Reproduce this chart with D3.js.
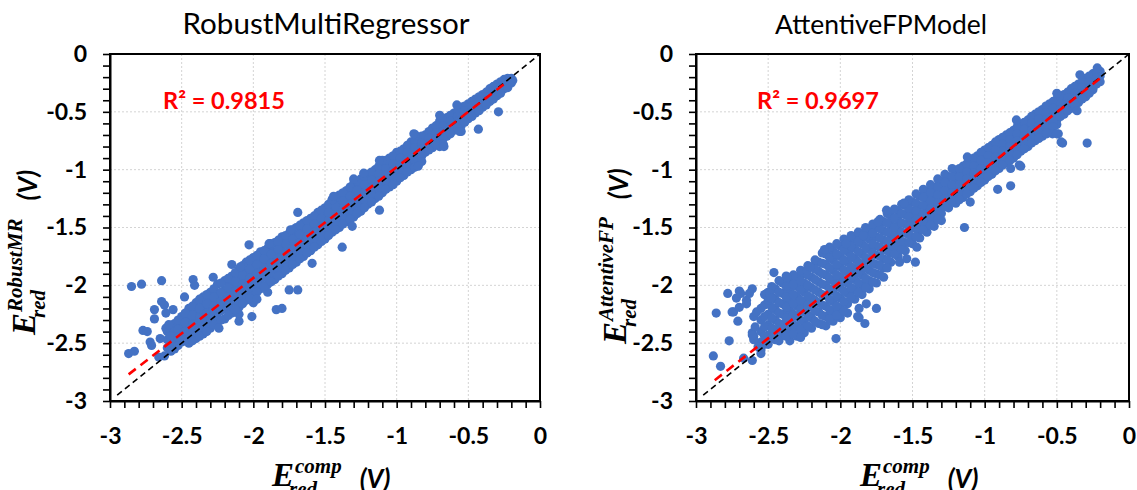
<!DOCTYPE html>
<html><head><meta charset="utf-8">
<script src="https://cdn.jsdelivr.net/npm/d3@7"></script>
<style>body{margin:0;background:#fff}svg{display:block}</style>
</head><body><svg id="c" width="1137" height="490"></svg>
<script>
// ---------- data ----------
const titles = ["RobustMultiRegressor", "AttentiveFPModel"];
const r2Labels = ["R\u00B2 = 0.9815", "R\u00B2 = 0.9697"];
const supLabels = ["RobustMR", "AttentiveFP"];
const tickValues = [-3, -2.5, -2, -1.5, -1, -0.5, 0];
const tickLabels = ["-3", "-2.5", "-2", "-1.5", "-1", "-0.5", "0"];

// dense band: [x, [y values]]
const robustBand = [
 [-2.60,[-2.40,-2.47,-2.54]],
 [-2.55,[-2.33,-2.41,-2.48,-2.55]],
 [-2.50,[-2.27,-2.35,-2.42,-2.49]],
 [-2.45,[-2.20,-2.28,-2.36,-2.44,-2.50]],
 [-2.40,[-2.15,-2.23,-2.31,-2.39,-2.46]],
 [-2.35,[-2.10,-2.18,-2.26,-2.34,-2.42]],
 [-2.30,[-2.06,-2.13,-2.21,-2.29,-2.37]],
 [-2.25,[-1.99,-2.08,-2.16,-2.24,-2.32]],
 [-2.20,[-1.96,-2.04,-2.12,-2.20,-2.29]],
 [-2.15,[-1.92,-1.99,-2.07,-2.15,-2.24]],
 [-2.10,[-1.86,-1.94,-2.02,-2.10,-2.19,-2.25]],
 [-2.05,[-1.80,-1.89,-1.97,-2.05,-2.13]],
 [-2.00,[-1.76,-1.84,-1.92,-2.00,-2.08,-2.15]],
 [-1.95,[-1.71,-1.79,-1.87,-1.95,-2.03]],
 [-1.90,[-1.68,-1.75,-1.83,-1.91,-1.99,-2.06]],
 [-1.85,[-1.63,-1.71,-1.79,-1.87,-1.95]],
 [-1.80,[-1.58,-1.66,-1.74,-1.82,-1.90]],
 [-1.75,[-1.55,-1.62,-1.70,-1.78,-1.85]],
 [-1.70,[-1.50,-1.58,-1.65,-1.73,-1.80]],
 [-1.65,[-1.46,-1.53,-1.60,-1.68,-1.75]],
 [-1.60,[-1.42,-1.49,-1.56,-1.63,-1.70]],
 [-1.55,[-1.37,-1.44,-1.51,-1.58,-1.65]],
 [-1.50,[-1.33,-1.40,-1.46,-1.53,-1.60]],
 [-1.45,[-1.26,-1.34,-1.41,-1.48,-1.54]],
 [-1.40,[-1.22,-1.30,-1.37,-1.44,-1.50]],
 [-1.35,[-1.18,-1.25,-1.32,-1.39,-1.45]],
 [-1.30,[-1.12,-1.20,-1.27,-1.34,-1.41]],
 [-1.25,[-1.08,-1.15,-1.22,-1.29,-1.36]],
 [-1.20,[-1.04,-1.11,-1.17,-1.24,-1.30]],
 [-1.15,[-1.00,-1.07,-1.13,-1.19,-1.25]],
 [-1.10,[-0.93,-1.01,-1.08,-1.14,-1.20]],
 [-1.05,[-0.90,-0.97,-1.03,-1.09,-1.15]],
 [-1.00,[-0.85,-0.92,-0.98,-1.04,-1.10]],
 [-0.95,[-0.82,-0.88,-0.93,-0.99,-1.05]],
 [-0.90,[-0.76,-0.83,-0.89,-0.94,-1.00]],
 [-0.85,[-0.73,-0.79,-0.84,-0.90,-0.96]],
 [-0.80,[-0.70,-0.76,-0.79,-0.85]],
 [-0.75,[-0.64,-0.70,-0.75,-0.81]],
 [-0.70,[-0.58,-0.64,-0.69,-0.75,-0.80]],
 [-0.65,[-0.55,-0.60,-0.65,-0.71]],
 [-0.60,[-0.51,-0.56,-0.60,-0.66]],
 [-0.55,[-0.46,-0.51,-0.56,-0.62,-0.67]],
 [-0.50,[-0.43,-0.47,-0.51,-0.56]],
 [-0.45,[-0.39,-0.43,-0.46,-0.51]],
 [-0.40,[-0.35,-0.39,-0.41,-0.46]],
 [-0.35,[-0.30,-0.34,-0.37,-0.41]],
 [-0.30,[-0.26,-0.30,-0.32,-0.36]],
 [-0.25,[-0.22,-0.26,-0.30]],
 [-0.20,[-0.21,-0.25]]
];
const robustBandB = [
 [-2.575,[-2.37,-2.44,-2.51,-2.57]],
 [-2.525,[-2.30,-2.38,-2.45,-2.52]],
 [-2.475,[-2.24,-2.32,-2.40,-2.47]],
 [-2.425,[-2.18,-2.26,-2.34,-2.42,-2.48]],
 [-2.375,[-2.12,-2.20,-2.28,-2.36,-2.44]],
 [-2.325,[-2.08,-2.16,-2.24,-2.32,-2.40]],
 [-2.275,[-2.03,-2.10,-2.18,-2.26,-2.34]],
 [-2.225,[-1.98,-2.06,-2.14,-2.22,-2.30]],
 [-2.175,[-1.94,-2.02,-2.10,-2.18,-2.26]],
 [-2.125,[-1.89,-1.97,-2.05,-2.13,-2.21]],
 [-2.075,[-1.83,-1.91,-1.99,-2.07,-2.16]],
 [-2.025,[-1.78,-1.86,-1.94,-2.02,-2.11]],
 [-1.975,[-1.74,-1.82,-1.90,-1.98,-2.06,-2.12]],
 [-1.925,[-1.70,-1.77,-1.85,-1.93,-2.01]],
 [-1.875,[-1.65,-1.73,-1.81,-1.89,-1.97]],
 [-1.825,[-1.61,-1.69,-1.77,-1.85,-1.92]],
 [-1.775,[-1.57,-1.64,-1.72,-1.80,-1.87]],
 [-1.725,[-1.52,-1.60,-1.67,-1.75,-1.82]],
 [-1.675,[-1.48,-1.56,-1.63,-1.70,-1.77]],
 [-1.625,[-1.44,-1.51,-1.58,-1.65,-1.72]],
 [-1.575,[-1.40,-1.47,-1.54,-1.61,-1.67]],
 [-1.525,[-1.35,-1.42,-1.49,-1.56,-1.62]],
 [-1.475,[-1.30,-1.37,-1.44,-1.51,-1.57]],
 [-1.425,[-1.24,-1.32,-1.39,-1.46,-1.52]],
 [-1.375,[-1.20,-1.27,-1.34,-1.41,-1.47]],
 [-1.325,[-1.15,-1.23,-1.30,-1.37,-1.43]],
 [-1.275,[-1.10,-1.18,-1.25,-1.32,-1.38]],
 [-1.225,[-1.06,-1.13,-1.20,-1.26,-1.33]],
 [-1.175,[-1.02,-1.09,-1.15,-1.21,-1.28]],
 [-1.125,[-0.97,-1.04,-1.10,-1.16,-1.23]],
 [-1.075,[-0.92,-0.99,-1.05,-1.11,-1.17]],
 [-1.025,[-0.88,-0.95,-1.01,-1.07,-1.13]],
 [-0.975,[-0.84,-0.90,-0.96,-1.02,-1.07]],
 [-0.925,[-0.79,-0.85,-0.91,-0.97,-1.02]],
 [-0.875,[-0.75,-0.81,-0.87,-0.92,-0.98]],
 [-0.825,[-0.71,-0.77,-0.82,-0.88,-0.93]],
 [-0.775,[-0.67,-0.73,-0.78,-0.83]],
 [-0.725,[-0.62,-0.68,-0.73,-0.78]],
 [-0.675,[-0.57,-0.62,-0.67,-0.73,-0.78]],
 [-0.625,[-0.53,-0.58,-0.63,-0.69]],
 [-0.575,[-0.49,-0.54,-0.58,-0.64]],
 [-0.525,[-0.45,-0.49,-0.54,-0.59]],
 [-0.475,[-0.41,-0.45,-0.49,-0.54]],
 [-0.425,[-0.37,-0.41,-0.44,-0.49]],
 [-0.375,[-0.33,-0.37,-0.40,-0.44]],
 [-0.325,[-0.28,-0.32,-0.35,-0.39]],
 [-0.275,[-0.24,-0.28,-0.31,-0.34]],
 [-0.225,[-0.21,-0.25,-0.29]]
];
const robustOutliers = [
 [-2.85,-2.01],[-2.78,-1.99],[-2.64,-1.96],[-2.87,-2.59],[-2.83,-2.57],[-2.77,-2.39],[-2.74,-2.40],
 [-2.72,-2.49],[-2.71,-2.52],[-2.69,-2.21],[-2.69,-2.29],[-2.64,-2.14],[-2.62,-2.17],[-2.65,-2.46],
 [-2.66,-2.62],[-2.62,-2.61],[-2.61,-2.37],[-2.59,-2.34],[-2.56,-2.21],[-2.61,-2.24],[-2.42,-1.95],
 [-2.41,-2.00],[-2.48,-2.10],[-2.28,-1.93],[-2.15,-1.82],[-2.09,-1.84],[-2.03,-1.65],[-1.88,-1.64],
 [-1.83,-1.62],[-1.69,-1.37],[-1.38,-1.67],[-1.59,-1.81],[-1.69,-2.04],[-1.75,-2.04],[-1.84,-2.21],
 [-1.80,-2.20],[-2.01,-2.27],[-2.10,-2.31],[-2.24,-2.37],
 [-1.10,-0.92],[-0.87,-0.70],[-1.23,-1.03],[-1.45,-1.26],[-1.74,-1.52],[-1.89,-1.64],[-0.67,-0.80],
 [-0.56,-0.67],[-0.85,-0.97],[-1.12,-1.35],[-1.31,-1.49],[-1.12,-0.92],[-1.30,-1.08],[-1.44,-1.23],
 [-0.88,-0.69],[-0.70,-0.53],[-0.58,-0.44],[-0.29,-0.50],[-0.43,-0.65],[-0.24,-0.23],[-0.19,-0.23],
 [-0.21,-0.23]
];
const attentiveBand = [
 [-2.55,[-2.20,-2.30,-2.40,-2.49,-2.56]],
 [-2.50,[-2.06,-2.15,-2.25,-2.34,-2.43,-2.51]],
 [-2.45,[-2.03,-2.12,-2.21,-2.30,-2.39,-2.47]],
 [-2.40,[-1.98,-2.07,-2.16,-2.25,-2.34,-2.43]],
 [-2.35,[-1.97,-2.05,-2.14,-2.22,-2.31,-2.40,-2.48]],
 [-2.30,[-1.93,-2.01,-2.10,-2.18,-2.27,-2.36,-2.44]],
 [-2.25,[-1.90,-1.98,-2.06,-2.15,-2.23,-2.32,-2.41]],
 [-2.20,[-1.84,-1.93,-2.02,-2.11,-2.19,-2.28,-2.37]],
 [-2.15,[-1.80,-1.88,-1.97,-2.06,-2.15,-2.23,-2.33]],
 [-2.10,[-1.73,-1.82,-1.91,-2.00,-2.09,-2.18,-2.27,-2.35]],
 [-2.05,[-1.70,-1.78,-1.87,-1.96,-2.05,-2.14,-2.23,-2.31]],
 [-2.00,[-1.66,-1.75,-1.84,-1.93,-2.02,-2.11,-2.20,-2.28]],
 [-1.95,[-1.63,-1.71,-1.80,-1.89,-1.98,-2.07,-2.16,-2.24]],
 [-1.90,[-1.60,-1.68,-1.77,-1.86,-1.95,-2.04,-2.12]],
 [-1.85,[-1.56,-1.64,-1.73,-1.82,-1.91,-2.00,-2.08]],
 [-1.80,[-1.52,-1.60,-1.69,-1.78,-1.87,-1.96,-2.03]],
 [-1.75,[-1.50,-1.58,-1.66,-1.74,-1.82,-1.90,-1.98]],
 [-1.70,[-1.45,-1.53,-1.61,-1.69,-1.77,-1.85,-1.93]],
 [-1.65,[-1.40,-1.48,-1.56,-1.64,-1.72,-1.80]],
 [-1.60,[-1.36,-1.44,-1.52,-1.60,-1.68,-1.75]],
 [-1.55,[-1.31,-1.39,-1.47,-1.55,-1.63,-1.70]],
 [-1.50,[-1.28,-1.36,-1.43,-1.50,-1.58,-1.64]],
 [-1.45,[-1.23,-1.31,-1.38,-1.45,-1.52,-1.59]],
 [-1.40,[-1.19,-1.26,-1.33,-1.40,-1.47,-1.54]],
 [-1.35,[-1.15,-1.22,-1.29,-1.36,-1.43,-1.49]],
 [-1.30,[-1.10,-1.17,-1.24,-1.31,-1.38,-1.44]],
 [-1.25,[-1.06,-1.13,-1.20,-1.27,-1.33]],
 [-1.20,[-1.01,-1.08,-1.15,-1.22,-1.29]],
 [-1.15,[-0.97,-1.04,-1.11,-1.17,-1.24]],
 [-1.10,[-0.93,-1.00,-1.06,-1.13,-1.19]],
 [-1.05,[-0.88,-0.95,-1.01,-1.08,-1.14]],
 [-1.00,[-0.83,-0.90,-0.97,-1.03,-1.09]],
 [-0.95,[-0.79,-0.86,-0.92,-0.98,-1.04]],
 [-0.90,[-0.74,-0.81,-0.87,-0.93,-0.99]],
 [-0.85,[-0.70,-0.76,-0.82,-0.88,-0.94]],
 [-0.80,[-0.66,-0.72,-0.78,-0.84,-0.90]],
 [-0.75,[-0.61,-0.67,-0.73,-0.79,-0.84]],
 [-0.70,[-0.57,-0.63,-0.69,-0.75,-0.80]],
 [-0.65,[-0.52,-0.58,-0.64,-0.70,-0.75]],
 [-0.60,[-0.48,-0.54,-0.60,-0.66,-0.71]],
 [-0.55,[-0.43,-0.49,-0.55,-0.61,-0.66]],
 [-0.50,[-0.39,-0.45,-0.51,-0.57,-0.61]],
 [-0.45,[-0.35,-0.41,-0.46,-0.52]],
 [-0.40,[-0.30,-0.36,-0.41,-0.47]],
 [-0.35,[-0.26,-0.32,-0.37,-0.42]],
 [-0.30,[-0.21,-0.27,-0.32,-0.37]],
 [-0.25,[-0.17,-0.22,-0.27,-0.31]],
 [-0.20,[-0.15,-0.19,-0.24]]
];
const attentiveBandB = [
 [-2.525,[-2.08,-2.17,-2.27,-2.36,-2.44,-2.51]],
 [-2.475,[-2.01,-2.10,-2.19,-2.28,-2.37,-2.45]],
 [-2.425,[-1.96,-2.06,-2.15,-2.24,-2.33,-2.41,-2.48]],
 [-2.375,[-1.92,-2.01,-2.10,-2.19,-2.28,-2.37,-2.44]],
 [-2.325,[-1.91,-1.99,-2.08,-2.16,-2.25,-2.34,-2.42]],
 [-2.275,[-1.87,-1.96,-2.04,-2.13,-2.21,-2.30,-2.38,-2.45]],
 [-2.225,[-1.83,-1.91,-2.00,-2.09,-2.17,-2.26,-2.35]],
 [-2.175,[-1.78,-1.86,-1.95,-2.04,-2.13,-2.22,-2.31]],
 [-2.125,[-1.72,-1.81,-1.90,-1.99,-2.08,-2.17,-2.26,-2.34]],
 [-2.075,[-1.67,-1.76,-1.85,-1.94,-2.03,-2.12,-2.21,-2.29]],
 [-2.025,[-1.64,-1.73,-1.82,-1.91,-2.00,-2.09,-2.18,-2.26]],
 [-1.975,[-1.60,-1.69,-1.78,-1.87,-1.96,-2.05,-2.14,-2.22]],
 [-1.925,[-1.57,-1.66,-1.75,-1.84,-1.93,-2.02,-2.10]],
 [-1.875,[-1.54,-1.62,-1.71,-1.80,-1.89,-1.98,-2.06]],
 [-1.825,[-1.50,-1.58,-1.67,-1.76,-1.85,-1.94,-2.02]],
 [-1.775,[-1.47,-1.55,-1.64,-1.72,-1.81,-1.89,-1.97]],
 [-1.725,[-1.43,-1.51,-1.59,-1.67,-1.75,-1.83,-1.91]],
 [-1.675,[-1.38,-1.46,-1.54,-1.62,-1.70,-1.78,-1.85]],
 [-1.625,[-1.34,-1.42,-1.50,-1.58,-1.66,-1.73]],
 [-1.575,[-1.30,-1.38,-1.46,-1.54,-1.62,-1.69]],
 [-1.525,[-1.26,-1.34,-1.41,-1.49,-1.56,-1.63]],
 [-1.475,[-1.21,-1.29,-1.36,-1.43,-1.51,-1.58]],
 [-1.425,[-1.17,-1.24,-1.31,-1.38,-1.45,-1.52]],
 [-1.375,[-1.13,-1.20,-1.27,-1.34,-1.41,-1.48]],
 [-1.325,[-1.08,-1.15,-1.22,-1.29,-1.36,-1.43]],
 [-1.275,[-1.04,-1.11,-1.18,-1.25,-1.32]],
 [-1.225,[-0.99,-1.06,-1.13,-1.20,-1.27]],
 [-1.175,[-0.99,-1.06,-1.13,-1.19,-1.26]],
 [-1.125,[-0.95,-1.02,-1.08,-1.15,-1.21]],
 [-1.075,[-0.90,-0.97,-1.03,-1.10,-1.16]],
 [-1.025,[-0.85,-0.92,-0.99,-1.05,-1.11]],
 [-0.975,[-0.81,-0.88,-0.94,-1.00,-1.06]],
 [-0.925,[-0.76,-0.83,-0.89,-0.95,-1.01]],
 [-0.875,[-0.72,-0.78,-0.84,-0.90,-0.96]],
 [-0.825,[-0.68,-0.74,-0.80,-0.86,-0.92]],
 [-0.775,[-0.63,-0.69,-0.75,-0.81,-0.87]],
 [-0.725,[-0.59,-0.65,-0.71,-0.77,-0.82]],
 [-0.675,[-0.54,-0.60,-0.66,-0.72,-0.77]],
 [-0.625,[-0.50,-0.56,-0.62,-0.68,-0.73]],
 [-0.575,[-0.45,-0.51,-0.57,-0.63,-0.68]],
 [-0.525,[-0.41,-0.47,-0.53,-0.59,-0.63]],
 [-0.475,[-0.37,-0.43,-0.48,-0.54]],
 [-0.425,[-0.33,-0.38,-0.43,-0.49]],
 [-0.375,[-0.28,-0.34,-0.39,-0.44]],
 [-0.325,[-0.24,-0.29,-0.34,-0.39]],
 [-0.275,[-0.19,-0.24,-0.29,-0.34]],
 [-0.225,[-0.16,-0.21,-0.26]]
];
const attentiveOutliers = [
 [-2.88,-2.61],[-2.83,-2.70],[-2.86,-2.24],[-2.77,-2.48],[-2.78,-2.07],[-2.74,-2.23],[-2.72,-2.11],
 [-2.70,-2.05],[-2.71,-2.31],[-2.65,-2.13],[-2.65,-2.16],[-2.61,-2.03],[-2.61,-2.41],[-2.60,-2.44],
 [-2.57,-2.53],[-2.46,-1.89],[-2.51,-2.07],[-2.50,-2.13],[-2.55,-2.59],[-2.67,-2.63],[-2.61,-2.65],
 [-2.60,-2.47],[-2.59,-2.36],[-2.61,-2.43],[-2.75,-2.23],[-2.70,-2.19],[-2.63,-2.07],[-2.69,-2.07],
 [-2.60,-2.27],[-2.58,-2.23],[-2.49,-2.07],[-2.48,-2.11],
 [-2.11,-1.69],[-2.03,-2.46],[-1.87,-2.28],[-1.83,-2.33],[-1.75,-2.20],[-1.87,-2.20],[-1.88,-2.27],
 [-1.82,-2.16],[-1.68,-1.35],[-1.74,-1.45],[-1.59,-1.80],[-1.54,-1.77],[-1.48,-1.80],[-1.47,-1.67],
 [-2.37,-1.93],[-2.23,-1.87],[-2.21,-1.84],[-1.96,-1.64],[-1.84,-1.57],
 [-1.14,-1.50],[-0.82,-1.14],[-0.91,-1.17],[-0.75,-0.97],[-0.82,-0.99],[-0.53,-0.69],[-0.49,-0.69],
 [-0.46,-0.77],[-0.36,-0.49],[-0.29,-0.77],[-0.47,-0.76],[-0.50,-0.69],[-0.57,-0.69],[-0.76,-0.96],
 [-1.10,-1.28],[-1.56,-1.29],[-1.12,-0.89],[-0.78,-0.57],[-0.50,-0.34],[-0.34,-0.18],[-0.22,-0.12],
 [-0.25,-0.29]
];
const robustFit = [[-2.87,-2.77],[-0.24,-0.25]];
const attentiveFit = [[-2.87,-2.82],[-0.19,-0.20]];
const identityLine = [[-2.95,-2.95],[0,0]];

// ---------- layout ----------
const panels = [
 {title:titles[0], r2:r2Labels[0], sup:supLabels[0], bands:[robustBand, robustBandB], outliers:robustOutliers, fit:robustFit,
  left:110, right:540, top:54, bottom:401, titleX:326, r2X:163, yLab:[35,335], xLab:[272,486], titleW:287},
 {title:titles[1], r2:r2Labels[1], sup:supLabels[1], bands:[attentiveBand, attentiveBandB], outliers:attentiveOutliers, fit:attentiveFit,
  left:696, right:1129, top:54, bottom:401, titleX:881, r2X:757, yLab:[626,344], xLab:[860,486], titleW:212}
];
const minorTicks = d3.range(-30, 1).map(i => i / 10);
const svg = d3.select("#c");
const SANS = "Lato, 'Open Sans', sans-serif";
const SERIF = "'Liberation Serif', 'DejaVu Serif', serif";

function fit(t, w) {
  const len = t.node().getComputedTextLength();
  const fs = parseFloat(t.attr("font-size"));
  t.attr("font-size", fs * w / len);
}

function axisLabel(g, sup) {
  const e = g.append("text").attr("x", 0).attr("y", 0)
    .attr("font-family", SERIF).attr("font-style", "italic").attr("font-weight", "bold")
    .attr("font-size", 33).text("E");
  const ew = e.node().getComputedTextLength();
  const s = g.append("text").attr("x", ew + 1).attr("y", -13)
    .attr("font-family", SERIF).attr("font-style", "italic").attr("font-weight", "bold")
    .attr("font-size", 21).text(sup);
  const sb = g.append("text").attr("x", ew - 5).attr("y", 10)
    .attr("font-family", SERIF).attr("font-style", "italic").attr("font-weight", "bold")
    .attr("font-size", 21).text("red");
  const end = Math.max(ew + 1 + s.node().getComputedTextLength(), ew - 5 + sb.node().getComputedTextLength());
  g.append("text").attr("x", end + 18).attr("y", 2)
    .attr("font-family", SANS).attr("font-style", "italic").attr("font-weight", "bold")
    .attr("font-size", 26).text("(V)");
}

panels.forEach(p => {
  const x = d3.scaleLinear().domain([-3, 0]).range([p.left, p.right]);
  const y = d3.scaleLinear().domain([-3, 0]).range([p.bottom, p.top]);
  const g = svg.append("g");

  // grid
  const inner = tickValues.slice(1, -1);
  g.selectAll(".gx").data(inner).join("line")
    .attr("x1", d => x(d)).attr("x2", d => x(d)).attr("y1", p.top).attr("y2", p.bottom)
    .attr("stroke", "#d4d4d4").attr("stroke-width", 1).attr("stroke-dasharray", "2,2");
  g.selectAll(".gy").data(inner).join("line")
    .attr("y1", d => y(d)).attr("y2", d => y(d)).attr("x1", p.left).attr("x2", p.right)
    .attr("stroke", "#d4d4d4").attr("stroke-width", 1).attr("stroke-dasharray", "2,2");

  // points
  const pts = p.bands.flatMap(b => b.flatMap(([xv, ys]) => ys.map(yv => [xv, yv]))).concat(p.outliers);
  g.selectAll("circle").data(pts).join("circle")
    .attr("cx", d => x(d[0])).attr("cy", d => y(d[1])).attr("r", 4.6).attr("fill", "#4472C4");

  const line = d3.line().x(d => x(d[0])).y(d => y(d[1]));
  g.append("path").attr("d", line(identityLine)).attr("fill", "none")
    .attr("stroke", "#000").attr("stroke-width", 1.6).attr("stroke-dasharray", "6,4");
  g.append("path").attr("d", line(p.fit)).attr("fill", "none")
    .attr("stroke", "#ff0000").attr("stroke-width", 2.6).attr("stroke-dasharray", "9,6");

  // frame
  g.append("rect").attr("x", p.left).attr("y", p.top).attr("width", p.right - p.left)
    .attr("height", p.bottom - p.top).attr("fill", "none").attr("stroke", "#000").attr("stroke-width", 2);

  const fmt = d => { const i = tickValues.findIndex(t => Math.abs(t - d) < 1e-9); return i >= 0 ? tickLabels[i] : ""; };
  const ax = g.append("g").attr("transform", `translate(0,${p.bottom})`)
    .call(d3.axisBottom(x).tickValues(minorTicks).tickSize(7).tickSizeOuter(0).tickPadding(20).tickFormat(fmt));
  const ay = g.append("g").attr("transform", `translate(${p.left},0)`)
    .call(d3.axisLeft(y).tickValues(minorTicks).tickSize(7).tickSizeOuter(0).tickPadding(16).tickFormat(fmt));
  [ax, ay].forEach(a => {
    a.select(".domain").attr("stroke", "#000").attr("stroke-width", 2);
    a.selectAll(".tick line").attr("stroke", "#000").attr("stroke-width", 1.6);
    a.selectAll("text").attr("font-family", SANS).attr("font-weight", "bold")
      .attr("font-size", 23).attr("fill", "#000");
  });

  // title
  const t = svg.append("text").attr("x", p.titleX).attr("y", 34).attr("text-anchor", "middle")
    .attr("font-family", SANS).attr("font-size", 28).attr("fill", "#000").text(p.title);
  fit(t, p.titleW);

  // R2
  const r = svg.append("text").attr("x", p.r2X).attr("y", 109)
    .attr("font-family", SANS).attr("font-weight", "bold").attr("font-size", 23)
    .attr("fill", "#ff0000").text(p.r2);
  fit(r, 122);

  axisLabel(svg.append("g").attr("transform", `translate(${p.xLab[0]},${p.xLab[1]})`), "comp");
  axisLabel(svg.append("g").attr("transform", `translate(${p.yLab[0]},${p.yLab[1]}) rotate(-90)`), p.sup);
});
</script></body></html>
